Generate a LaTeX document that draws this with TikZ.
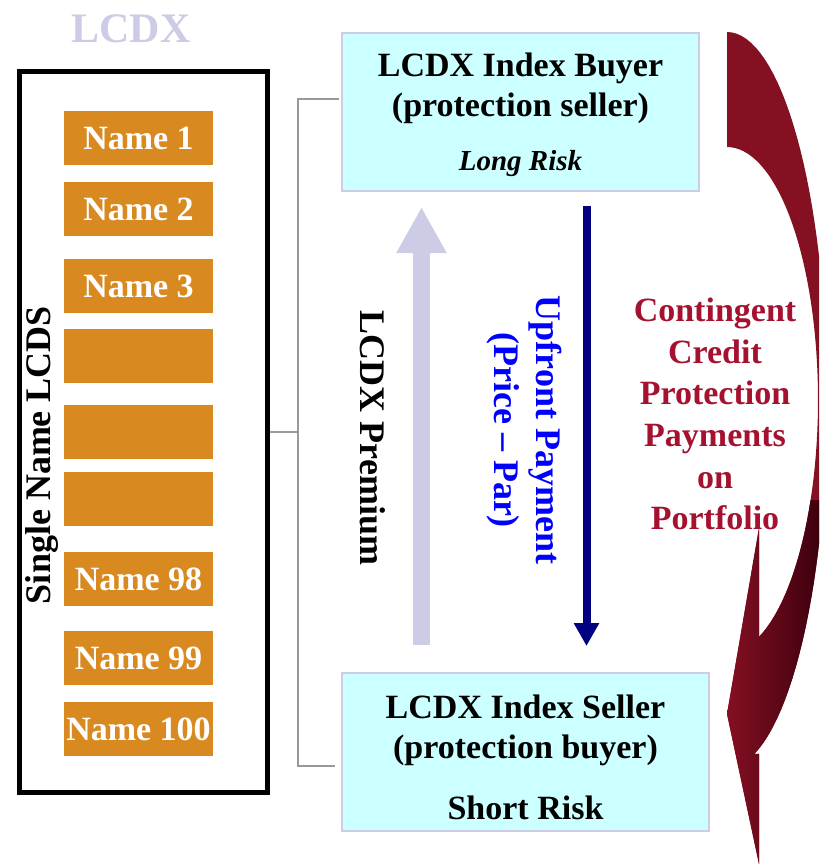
\documentclass[tikz,border=0pt]{standalone}
\usepackage{fontspec}
\setmainfont{Liberation Serif}
\usepackage{xcolor}
\usetikzlibrary{positioning, arrows.meta}
\definecolor{IdxLav}{RGB}{204,204,230}
\definecolor{BoxCyan}{RGB}{204,255,255}
\definecolor{NameOrange}{RGB}{216,138,32}
\definecolor{PayNavy}{RGB}{0,0,128}
\definecolor{PayBlue}{RGB}{0,0,255}
\definecolor{TextRed}{RGB}{165,18,48}
\definecolor{ArrowRed}{RGB}{132,16,34}
\definecolor{ArrowDark}{RGB}{62,0,14}
\tikzset{
  namebox/.style={fill=NameOrange, minimum width=149, minimum height=54, inner sep=0pt,
    text=white, font=\fontsize{34}{40}\selectfont\bfseries},
  lcdsbox/.style={draw=black, line width=5, inner sep=0pt},
  partybox/.style={draw=IdxLav, line width=2, fill=BoxCyan, inner sep=0pt, minimum height=158},
  partytext/.style={anchor=base, inner sep=0pt, font=\fontsize{34}{40}\selectfont\bfseries},
  bigtext/.style={inner sep=0pt, font=\fontsize{36}{42}\selectfont\bfseries},
  bracket/.style={draw=gray!80, line width=1.5},
}
% curved arrow outline on the right
\newcommand{\riskarrowpath}{(727,32) -- plot[domain=-90:74, samples=60] ({727+100*cos(\x)},{400+368*sin(\x)})
  -- (759,754) -- (759,864) -- (727,714) -- (759,528) -- (759,638)
  -- plot[domain=69:-90, samples=60] ({727+91*cos(\x)},{400+253*sin(\x)}) -- cycle}

\begin{document}
\begin{tikzpicture}[x=1pt, y=-1pt]
  \clip (0,0) rectangle (819,864);

  % index title
  \node[anchor=base, inner sep=0pt, text=IdxLav, font=\fontsize{42}{48}\selectfont\bfseries] (title) at (131,43) {LCDX};

  % portfolio of single names
  \node[lcdsbox, minimum width=248, minimum height=721] (lcds) at (143.5,432) {};
  \foreach \yy/\lbl [count=\i] in {138/Name 1, 209/Name 2, 286/Name 3, 356/, 432/, 499/, 579/Name 98, 658/Name 99, 729/Name 100}
    \node[namebox] (name\i) at (138.5,\yy) {\lbl};
  \node[bigtext, rotate=90] (lcdslabel) at (42,455) {Single Name LCDS};

  % counterparties
  \node[partybox, minimum width=357] (buyer) at (520.5,112) {};
  \node[partytext] (buyer1) at (520.5,77) {LCDX Index Buyer};
  \node[partytext] (buyer2) at (520.5,117) {(protection seller)};
  \node[partytext, font=\fontsize{29}{34}\selectfont\bfseries\itshape] (buyer3) at (520.5,170) {Long Risk};

  \node[partybox, minimum width=367] (seller) at (525.5,752) {};
  \node[partytext] (seller1) at (525.5,718) {LCDX Index Seller};
  \node[partytext] (seller2) at (525.5,758) {(protection buyer)};
  \node[partytext] (seller3) at (525.5,819) {Short Risk};

  % bracket
  \coordinate (bt) at (298,99);
  \coordinate (bb) at (298,766);
  \coordinate (bm) at (298,432);
  \draw[bracket] (339,99) -- (bt) -- (bb) -- (335,766);
  \draw[bracket] (lcds.east |- bm) -- (bm);

  % payments
  \coordinate (premlow) at (421.5,645);
  \coordinate (premtop) at (421.5,207);
  \draw[IdxLav, line width=17, -{Triangle[length=46, width=47]}] (premlow) -- (premtop);
  \node[bigtext, rotate=-90] (premium) at (373,438) {LCDX Premium};

  \coordinate (upftop) at (586.5,206);
  \coordinate (upflow) at (586.5,646);
  \draw[PayNavy, line width=8, -{Triangle[length=23, width=24]}] (upftop) -- (upflow);
  \node[bigtext, rotate=-90, align=center, text=PayBlue] (upfront) at (524,430) {Upfront Payment\\(Price -- Par)};

  % contingent payments
  \fill[ArrowRed] \riskarrowpath;
  \begin{scope}
    \clip \riskarrowpath;
    \shade[left color=ArrowRed, right color=ArrowDark] (727,500) rectangle (819,864);
  \end{scope}
  \node[inner sep=0pt, anchor=north, align=center, text=TextRed, font=\fontsize{34}{41.6}\selectfont\bfseries] (contingent) at (715,298)
    {Contingent\\Credit\\Protection\\Payments\\on\\Portfolio};
\end{tikzpicture}
\end{document}
